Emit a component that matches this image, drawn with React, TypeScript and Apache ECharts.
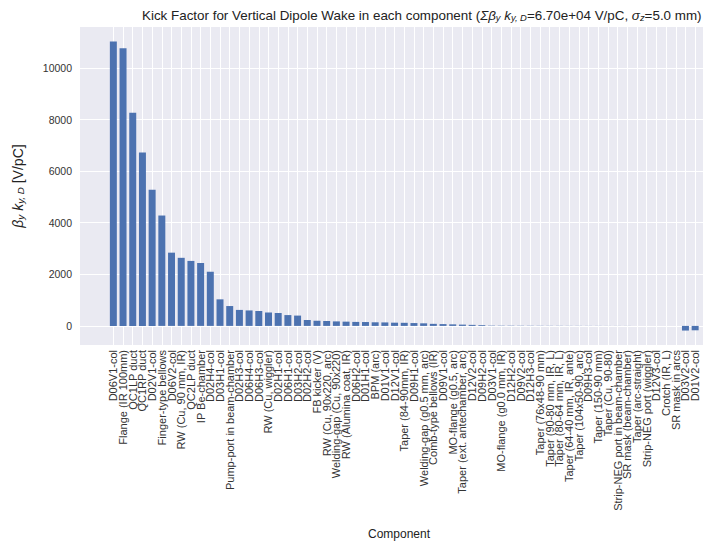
import { useEffect, useRef } from 'react';
import * as echarts from 'echarts';

// Component names, in descending order of vertical kick factor
const categories = [
  'D06V1-col', 'Flange (IR 100mm)', 'QC1LP duct', 'QC1RP duct', 'D02V1-col',
  'Finger-type bellows', 'D06V2-col', 'RW (Cu, 90 mm, IR)', 'QC2LP duct', 'IP Be-chamber',
  'D02H4-col', 'D03H1-col', 'Pump-port in beam-chamber', 'D02H3-col', 'D06H4-col',
  'D06H3-col', 'RW (Cu, wiggler)', 'D02H1-col', 'D06H1-col', 'D03H2-col',
  'D02H2-col', 'FB kicker (V)', 'RW (Cu, 90x220, arc)', 'Welding-gap (Cu, 90x220)', 'RW (Alumina coat, IR)',
  'D06H2-col', 'D01H1-col', 'BPM (arc)', 'D01V1-col', 'D12V1-col',
  'Taper (84-90mm, IR)', 'D09H1-col', 'Welding-gap (g0.5 mm, arc)', 'Comb-type bellows (IR)', 'D09V1-col',
  'MO-flange (g0.5, arc)', 'Taper (ext. antechamber, arc)', 'D12V2-col', 'D09H2-col', 'D03V1-col',
  'MO-flange (g0.0 mm, IR)', 'D12H2-col', 'D09V2-col', 'D12H3-col', 'Taper (76x48-90 mm)',
  'Taper (90-80 mm, IR, L)', 'Taper (80-64 mm, IR, L)', 'Taper (64-40 mm, IR, ante)', 'Taper (104x50-90, arc)', 'D09H3-col',
  'Taper (150-90 mm)', 'Taper (Cu, 90-80)', 'Strip-NEG port in beam-chamber', 'SR mask (beam-chamber)', 'Taper (arc-straight)',
  'Strip-NEG port (wiggler)', 'D12V3-col', 'Crotch (IR, L)', 'SR mask in arcs', 'D03V2-col',
  'D01V2-col',
];

// beta_y * k_y,D per component [V/pC]
const kickValues = [
  11030, 10770, 8270, 6720, 5280,
  4280, 2840, 2640, 2520, 2440,
  2100, 1030, 770, 620, 600,
  580, 520, 500, 420, 400,
  230, 200, 190, 175, 165,
  155, 150, 140, 135, 125,
  120, 110, 100, 80, 70,
  60, 50, 40, 30, 12,
  10, 9, 8, 7, 6,
  5, 5, 4, 4, 3,
  3, 2, 2, 2, 1,
  1, 1, 1, 1, -180,
  -170,
];

const FONT = '"Liberation Sans", Arial, Helvetica, sans-serif';
const BAR_COLOR = '#4C72B0';
const PLOT_BG = '#EAEAF2';

const titleText =
  'Kick Factor for Vertical Dipole Wake in each component ({m|\u03A3\u03B2}{s|y} {m|k}{s|y, D}=6.70e+04 V/pC, {m|\u03C3}{s|z}=5.0 mm)';
const yAxisTitle = '{m|\u03B2}{s|y} {m|k}{s|y, D} [V/pC]';

// plot frame in pixels
const PLOT = { left: 80, top: 27, right: 703, bottom: 345 };

export default function App() {
  const ref = useRef<HTMLDivElement>(null);

  useEffect(() => {
    if (!ref.current) return;
    const chart = echarts.init(ref.current, null, { renderer: 'svg' });

    const vMin = Math.min(...kickValues);
    const vMax = Math.max(...kickValues);
    const pad = 0.05 * (vMax - vMin);
    const yMin = vMin - pad;
    const yMax = vMax + pad;

    const mathRich = (size: number) => ({
      m: { fontStyle: 'italic', fontSize: size, fontFamily: FONT, color: '#222' },
      s: {
        fontStyle: 'italic',
        fontSize: size * 0.7,
        fontFamily: FONT,
        color: '#222',
        verticalAlign: 'bottom',
        padding: [4, 0, 0, 0],
      },
    });

    const H = 544;
    const W = 709;

    chart.setOption({
      animation: false,
      backgroundColor: '#fff',
      textStyle: { fontFamily: FONT },
      title: {
        text: titleText,
        left: 137,
        top: 4,
        textStyle: {
          fontFamily: FONT,
          fontSize: 13.4,
          fontWeight: 'normal',
          color: '#222',
          rich: mathRich(13.4),
        },
      },
      grid: [
        // frame carrying the horizontal grid
        { left: PLOT.left, right: W - PLOT.right, top: PLOT.top, bottom: H - PLOT.bottom, show: false },
        // bars
        { left: 108.5, right: 9, top: PLOT.top, bottom: H - PLOT.bottom, show: false },
      ],
      xAxis: [
        { type: 'value', gridIndex: 0, show: false, min: 0, max: 1 },
        {
          type: 'category',
          gridIndex: 1,
          data: categories,
          axisLine: { show: false },
          axisTick: { show: false },
          axisLabel: {
            interval: 0,
            rotate: 90,
            fontSize: 11,
            margin: 5,
            color: '#333',
            fontFamily: FONT,
          },
          splitLine: {
            show: true,
            interval: 0,
            alignWithLabel: true,
            lineStyle: { color: '#ffffff', width: 1 },
          },
        },
      ],
      yAxis: [
        {
          type: 'value',
          gridIndex: 0,
          min: yMin,
          max: yMax,
          axisLine: { show: false },
          axisTick: { show: false },
          axisLabel: {
            fontSize: 10.5,
            color: '#333',
            margin: 8,
            showMinLabel: false,
            showMaxLabel: false,
            fontFamily: FONT,
            formatter: (v: number) => String(Math.round(v)),
          },
          splitLine: {
            show: true,
            showMinLine: false,
            showMaxLine: false,
            lineStyle: { color: '#ffffff', width: 1.2 },
          },
          name: yAxisTitle,
          nameLocation: 'middle',
          nameGap: 55,
          nameTextStyle: {
            fontSize: 14,
            color: '#222',
            fontFamily: FONT,
            rich: mathRich(14),
          },
        },
        { type: 'value', gridIndex: 1, show: false, min: yMin, max: yMax },
      ],
      graphic: [
        {
          type: 'rect',
          z: -10,
          silent: true,
          shape: {
            x: PLOT.left,
            y: PLOT.top,
            width: PLOT.right - PLOT.left,
            height: PLOT.bottom - PLOT.top,
          },
          style: { fill: PLOT_BG },
        },
        {
          type: 'text',
          left: 368,
          top: 528,
          style: { text: 'Component', fontSize: 12, fill: '#222', fontFamily: FONT },
        },
      ],
      series: [
        {
          type: 'bar',
          xAxisIndex: 1,
          yAxisIndex: 1,
          data: kickValues,
          barWidth: '72%',
          itemStyle: { color: BAR_COLOR },
        },
      ],
    });

    return () => chart.dispose();
  }, []);

  return (
    <div
      ref={ref}
      style={{ position: 'fixed', left: 0, top: 0, width: 709, height: 544 }}
    />
  );
}
